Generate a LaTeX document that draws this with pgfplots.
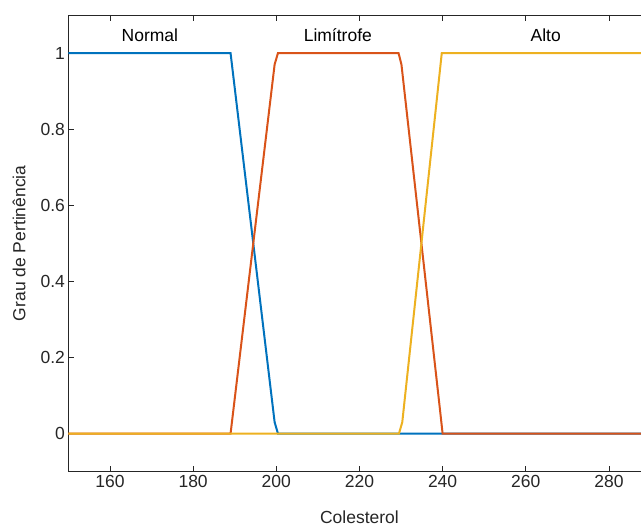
\documentclass[border=0pt]{standalone}
\usepackage{pgfplots}
\pgfplotsset{compat=1.18}
\usepackage{fontspec}
\setmainfont{Liberation Sans}
\definecolor{mblue}{rgb}{0,0.447,0.741}
\definecolor{morange}{rgb}{0.85,0.325,0.098}
\definecolor{myellow}{rgb}{0.929,0.694,0.125}
\definecolor{axgray}{rgb}{0.15,0.15,0.15}
\begin{document}
\begin{tikzpicture}
\path[use as bounding box] (-68.4pt,-55.3pt) rectangle (572.6pt,471.7pt);
\clip (-68.4pt,-55.3pt) rectangle (572.6pt,471.7pt);
\begin{axis}[
  at={(0pt,0pt)}, anchor=south west,
  scale only axis,
  width=582.1pt, height=456.7pt,
  xmin=150, xmax=290, ymin=-0.1, ymax=1.1,
  xtick={160,180,200,220,240,260,280},
  ytick={0,0.2,0.4,0.6,0.8,1},
  yticklabels={0,0.2,0.4,0.6,0.8,1},
  tick align=inside,
  major tick length=6pt,
  axis line style={axgray, line width=0.8pt},
  tick style={axgray, line width=0.8pt},
  font=\fontsize{17.5}{21}\selectfont,
  ticklabel style={text=axgray, font=\fontsize{17.5}{21}\selectfont},
  /pgf/number format/assume math mode=true,
  xlabel={Colesterol},
  ylabel={Grau de Pertinência},
  xlabel style={at={(axis description cs:0.5,-0.0992)}, anchor=center, text=axgray},
  ylabel style={at={(axis description cs:-0.0849,0.5)}, anchor=center, text=axgray},
  clip=true,
]
\addplot[mblue, line width=2pt] coordinates {(150,1) (189,1) (199.6,0.03) (200.4,0) (290,0)};
\addplot[morange, line width=2pt] coordinates {(150,0) (189,0) (199.6,0.97) (200.4,1) (229.4,1) (230.1,0.97) (239.5,0.05) (240,0) (290,0)};
\addplot[myellow, line width=2pt] coordinates {(150,0) (229.5,0) (230.3,0.03) (239.8,1) (290,1)};
\node[font=\fontsize{17.5}{21}\selectfont] at (axis cs:169.6,1.047) {Normal};
\node[font=\fontsize{17.5}{21}\selectfont] at (axis cs:214.8,1.047) {Limítrofe};
\node[font=\fontsize{17.5}{21}\selectfont] at (axis cs:264.8,1.047) {Alto};
\end{axis}
\end{tikzpicture}
\end{document}
